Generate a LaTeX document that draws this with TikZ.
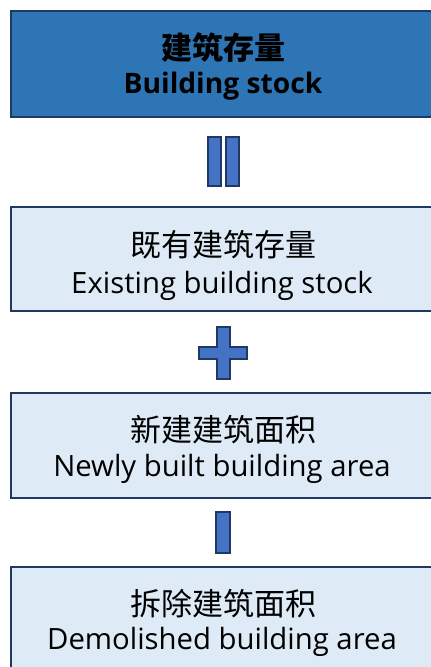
\documentclass[tikz,border=0pt]{standalone}
\usepackage{fontspec}
\setmainfont{Open Sans}[BoldFont={Open Sans Bold}]
\newfontfamily\cjk{Noto Sans CJK SC}
\definecolor{navy}{HTML}{1F3864}
\definecolor{topblue}{HTML}{2E75B6}
\definecolor{lightblue}{HTML}{DEEBF7}
\definecolor{symblue}{HTML}{4472C4}
\begin{document}
\begin{tikzpicture}[x=1pt,y=-1pt,
  box/.style={draw=navy,line width=2pt},
  sym/.style={draw=navy,fill=symblue,line width=2pt},
  zh/.style={anchor=base,inner sep=0pt,font=\cjk\fontsize{31}{34}\selectfont},
  en/.style={anchor=base,inner sep=0pt,font=\fontsize{29.3}{32}\selectfont}]
\useasboundingbox (0,0) rectangle (431,667);
\begin{scope}
\clip (0,0) rectangle (431,667);
% top box
\draw[box,fill=topblue] (11,11) rectangle (440,117);
\node[zh] (t1) at (223,59) {\bfseries 建筑存量};
\node[en,font=\fontsize{28.2}{32}\selectfont\bfseries] (t2) at (223,93) {Building stock};
% equal sign
\draw[sym] (208,137) rectangle (221,186);
\draw[sym] (226,137) rectangle (239,186);
% box 2
\draw[box,fill=lightblue] (11,207) rectangle (440,311);
\node[zh] (b1) at (223,256) {既有建筑存量};
\node[en] (b2) at (222,293) {Existing building stock};
% plus
\draw[sym] (217,327) -- (230,327) -- (230,347) -- (247,347) -- (247,359) -- (230,359) -- (230,379) -- (217,379) -- (217,359) -- (199,359) -- (199,347) -- (217,347) -- cycle;
% box 3
\draw[box,fill=lightblue] (11,393) rectangle (440,498);
\node[zh] (c1) at (223,441) {新建建筑面积};
\node[en] (c2) at (222,476) {Newly built building area};
% minus
\draw[sym] (216,512) rectangle (230,553);
% box 4
\draw[box,fill=lightblue] (11,567) rectangle (440,700);
\node[zh] (d1) at (223,615) {拆除建筑面积};
\node[en] (d2) at (222,649) {Demolished building area};
\end{scope}
\end{tikzpicture}
\end{document}
